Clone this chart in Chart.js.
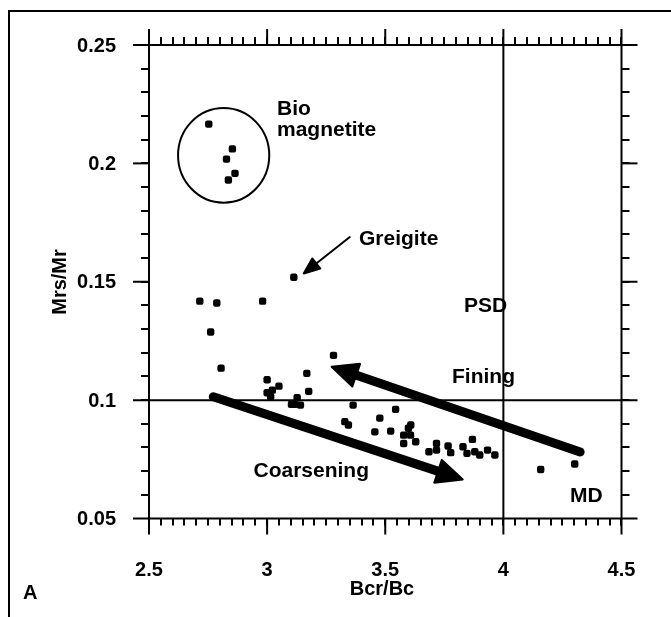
<!DOCTYPE html>
<html>
<head>
<meta charset="utf-8">
<script src="https://cdn.jsdelivr.net/npm/chart.js@4.4.1/dist/chart.umd.min.js"></script>
<style>
  html, body { margin: 0; padding: 0; background: #fff; }
  #wrap { width: 671px; height: 617px; }
</style>
</head>
<body>
<div id="wrap"><canvas id="chart"></canvas></div>
<script>
// Bcr/Bc vs Mrs/Mr (Day plot)
const bioX = [2.753, 2.853, 2.828, 2.864, 2.836];
const bioY = [0.2166, 0.2061, 0.2018, 0.1958, 0.1930];

const sampleX = [3.113, 2.715, 2.787, 2.981, 2.761, 2.805, 3.281, 3.168, 3.000, 3.050,
                 3.022, 3.000, 3.015, 3.176, 3.127, 3.103, 3.117, 3.141, 3.364, 3.329,
                 3.344, 3.477, 3.544, 3.608, 3.598, 3.456, 3.523, 3.578, 3.607, 3.578,
                 3.629, 3.685, 3.717, 3.717, 3.766, 3.777, 3.829, 3.869, 3.846, 3.879,
                 3.900, 3.933, 3.964, 4.158, 4.302];
const sampleY = [0.1519, 0.1418, 0.1410, 0.1418, 0.1288, 0.1135, 0.1189, 0.1113, 0.1086, 0.1059,
                 0.1042, 0.1031, 0.1014, 0.1037, 0.1010, 0.0982, 0.0982, 0.0979, 0.0979, 0.0909,
                 0.0895, 0.0924, 0.0961, 0.0895, 0.0881, 0.0866, 0.0869, 0.0852, 0.0852, 0.0817,
                 0.0824, 0.0782, 0.0817, 0.0789, 0.0806, 0.0778, 0.0803, 0.0834, 0.0775, 0.0782,
                 0.0768, 0.0789, 0.0768, 0.0707, 0.0730];

const xTicks = [2.5, 3, 3.5, 4, 4.5];
const xTickLabels = ['2.5', '3', '3.5', '4', '4.5'];
const yTicks = [0.05, 0.1, 0.15, 0.2, 0.25];
const yTickLabels = ['0.05', '0.1', '0.15', '0.2', '0.25'];

// arrows: [x tail, y tail, x tip, y tip]
const coarseningArrow = [2.772, 0.1014, 3.828, 0.0665];
const finingArrow = [4.325, 0.0781, 3.273, 0.1141];
const greigiteArrow = [3.35, 0.1689, 3.155, 0.1535];

const toPts = (xs, ys) => xs.map((x, i) => ({ x: x, y: ys[i] }));

const FONT = 'bold 20px "Liberation Sans", Arial, sans-serif';
const LABEL_FONT = 'bold 21px "Liberation Sans", Arial, sans-serif';

function arrow(ctx, x1, y1, x2, y2, w, headLen, headW) {
    const a = Math.atan2(y2 - y1, x2 - x1);
    const bx = x2 - Math.cos(a) * headLen, by = y2 - Math.sin(a) * headLen;
    ctx.save();
    ctx.strokeStyle = '#000';
    ctx.fillStyle = '#000';
    ctx.lineWidth = w;
    ctx.lineCap = 'round';
    ctx.beginPath();
    ctx.moveTo(x1, y1);
    ctx.lineTo(bx + Math.cos(a) * 2, by + Math.sin(a) * 2);
    ctx.stroke();
    ctx.lineJoin = 'round';
    ctx.lineWidth = 2;
    ctx.beginPath();
    ctx.moveTo(x2, y2);
    ctx.lineTo(bx + Math.sin(a) * headW / 2, by - Math.cos(a) * headW / 2);
    ctx.lineTo(bx - Math.sin(a) * headW / 2, by + Math.cos(a) * headW / 2);
    ctx.closePath();
    ctx.fill();
    ctx.stroke();
    ctx.restore();
}

const framePlugin = {
    id: 'frame',
    beforeDatasetsDraw(chart) {
        const ctx = chart.ctx;
        const xs = chart.scales.x, ys = chart.scales.y;
        const L = xs.getPixelForValue(2.5), R = xs.getPixelForValue(4.5);
        const T = ys.getPixelForValue(0.25), B = ys.getPixelForValue(0.05);
        ctx.save();
        ctx.strokeStyle = '#000';
        ctx.lineWidth = 2;
        ctx.lineCap = 'butt';

        // outer frame
        ctx.beginPath();
        ctx.moveTo(9, 617); ctx.lineTo(9, 11); ctx.lineTo(671, 11);
        ctx.stroke();

        const line = (x1, y1, x2, y2) => { ctx.beginPath(); ctx.moveTo(x1, y1); ctx.lineTo(x2, y2); ctx.stroke(); };

        // minor ticks
        for (let v = 2.55; v < 4.5; v += 0.05) {
            const p = Math.round(xs.getPixelForValue(v));
            line(p, T, p, T - 8);
            line(p, B, p, B + 7);
        }
        for (let v = 0.06; v < 0.25; v += 0.01) {
            const p = Math.round(ys.getPixelForValue(v));
            line(L, p, L - 8, p);
            line(R, p, R + 8, p);
        }
        // major x: full lines at 2.5, 4, 4.5; ticks elsewhere
        xTicks.forEach(v => {
            const p = xs.getPixelForValue(v);
            if (v === 2.5 || v === 4 || v === 4.5) {
                line(p, T - 16, p, B + 16);
            } else {
                line(p, T - 16, p, T);
                line(p, B, p, B + 16);
            }
        });
        yTicks.forEach(v => {
            const p = ys.getPixelForValue(v);
            if (v === 0.25 || v === 0.1 || v === 0.05) {
                line(L - 16, p, R + 16, p);
            } else {
                line(L - 16, p, L, p);
                line(R, p, R + 16, p);
            }
        });

        // tick labels
        ctx.fillStyle = '#000';
        ctx.font = FONT;
        ctx.textAlign = 'center';
        ctx.textBaseline = 'alphabetic';
        xTicks.forEach((v, i) => ctx.fillText(xTickLabels[i], xs.getPixelForValue(v), 576));
        ctx.textAlign = 'right';
        ctx.textBaseline = 'middle';
        yTicks.forEach((v, i) => ctx.fillText(yTickLabels[i], 116, ys.getPixelForValue(v) + 1));

        // axis titles
        ctx.textAlign = 'center';
        ctx.textBaseline = 'alphabetic';
        ctx.fillText('Bcr/Bc', 382, 595);
        ctx.save();
        ctx.translate(66, 282);
        ctx.rotate(-Math.PI / 2);
        ctx.fillText('Mrs/Mr', 0, 0);
        ctx.restore();
        ctx.textAlign = 'left';
        ctx.fillText('A', 23, 599);

        // biomagnetite circle
        ctx.beginPath();
        const cx = xs.getPixelForValue(2.816), cy = ys.getPixelForValue(0.2034);
        const rx = xs.getPixelForValue(2.816 + 0.193) - cx;
        const ry = cy - ys.getPixelForValue(0.2034 + 0.02);
        ctx.ellipse(cx, cy, rx, ry, 0, 0, Math.PI * 2);
        ctx.stroke();

        // region labels
        ctx.font = LABEL_FONT;
        ctx.fillText('Bio', 277, 115);
        ctx.fillText('magnetite', 277, 136);
        ctx.fillText('Greigite', 359, 245);
        ctx.fillText('PSD', 464, 312);
        ctx.fillText('Fining', 452, 383);
        ctx.fillText('MD', 570, 502);
        ctx.textAlign = 'right';
        ctx.fillText('Coarsening', 369, 477);
        ctx.restore();
    },
    afterDatasetsDraw(chart) {
        const ctx = chart.ctx;
        const xs = chart.scales.x, ys = chart.scales.y;
        const px = (a) => [xs.getPixelForValue(a[0]), ys.getPixelForValue(a[1]),
                           xs.getPixelForValue(a[2]), ys.getPixelForValue(a[3])];
        let c = px(coarseningArrow);
        arrow(ctx, c[0], c[1], c[2], c[3], 9, 26, 24);
        c = px(finingArrow);
        arrow(ctx, c[0], c[1], c[2], c[3], 9, 26, 24);
        c = px(greigiteArrow);
        arrow(ctx, c[0], c[1], c[2], c[3], 2, 16, 13);
    }
};

new Chart(document.getElementById('chart'), {
    type: 'scatter',
    data: {
        datasets: [
            { label: 'Bio magnetite', data: toPts(bioX, bioY) },
            { label: 'Samples', data: toPts(sampleX, sampleY) }
        ]
    },
    options: {
        animation: false,
        responsive: true,
        maintainAspectRatio: false,
        layout: { padding: { left: 149, right: 49.5, top: 45, bottom: 98.5 } },
        elements: {
            point: { pointStyle: 'rectRounded', radius: 4.3, backgroundColor: '#000', borderWidth: 0, hoverRadius: 4.3 }
        },
        scales: {
            x: { type: 'linear', min: 2.5, max: 4.5, display: false },
            y: { type: 'linear', min: 0.05, max: 0.25, display: false }
        },
        plugins: {
            legend: { display: false },
            tooltip: { enabled: false }
        }
    },
    plugins: [framePlugin]
});
</script>
</body>
</html>
